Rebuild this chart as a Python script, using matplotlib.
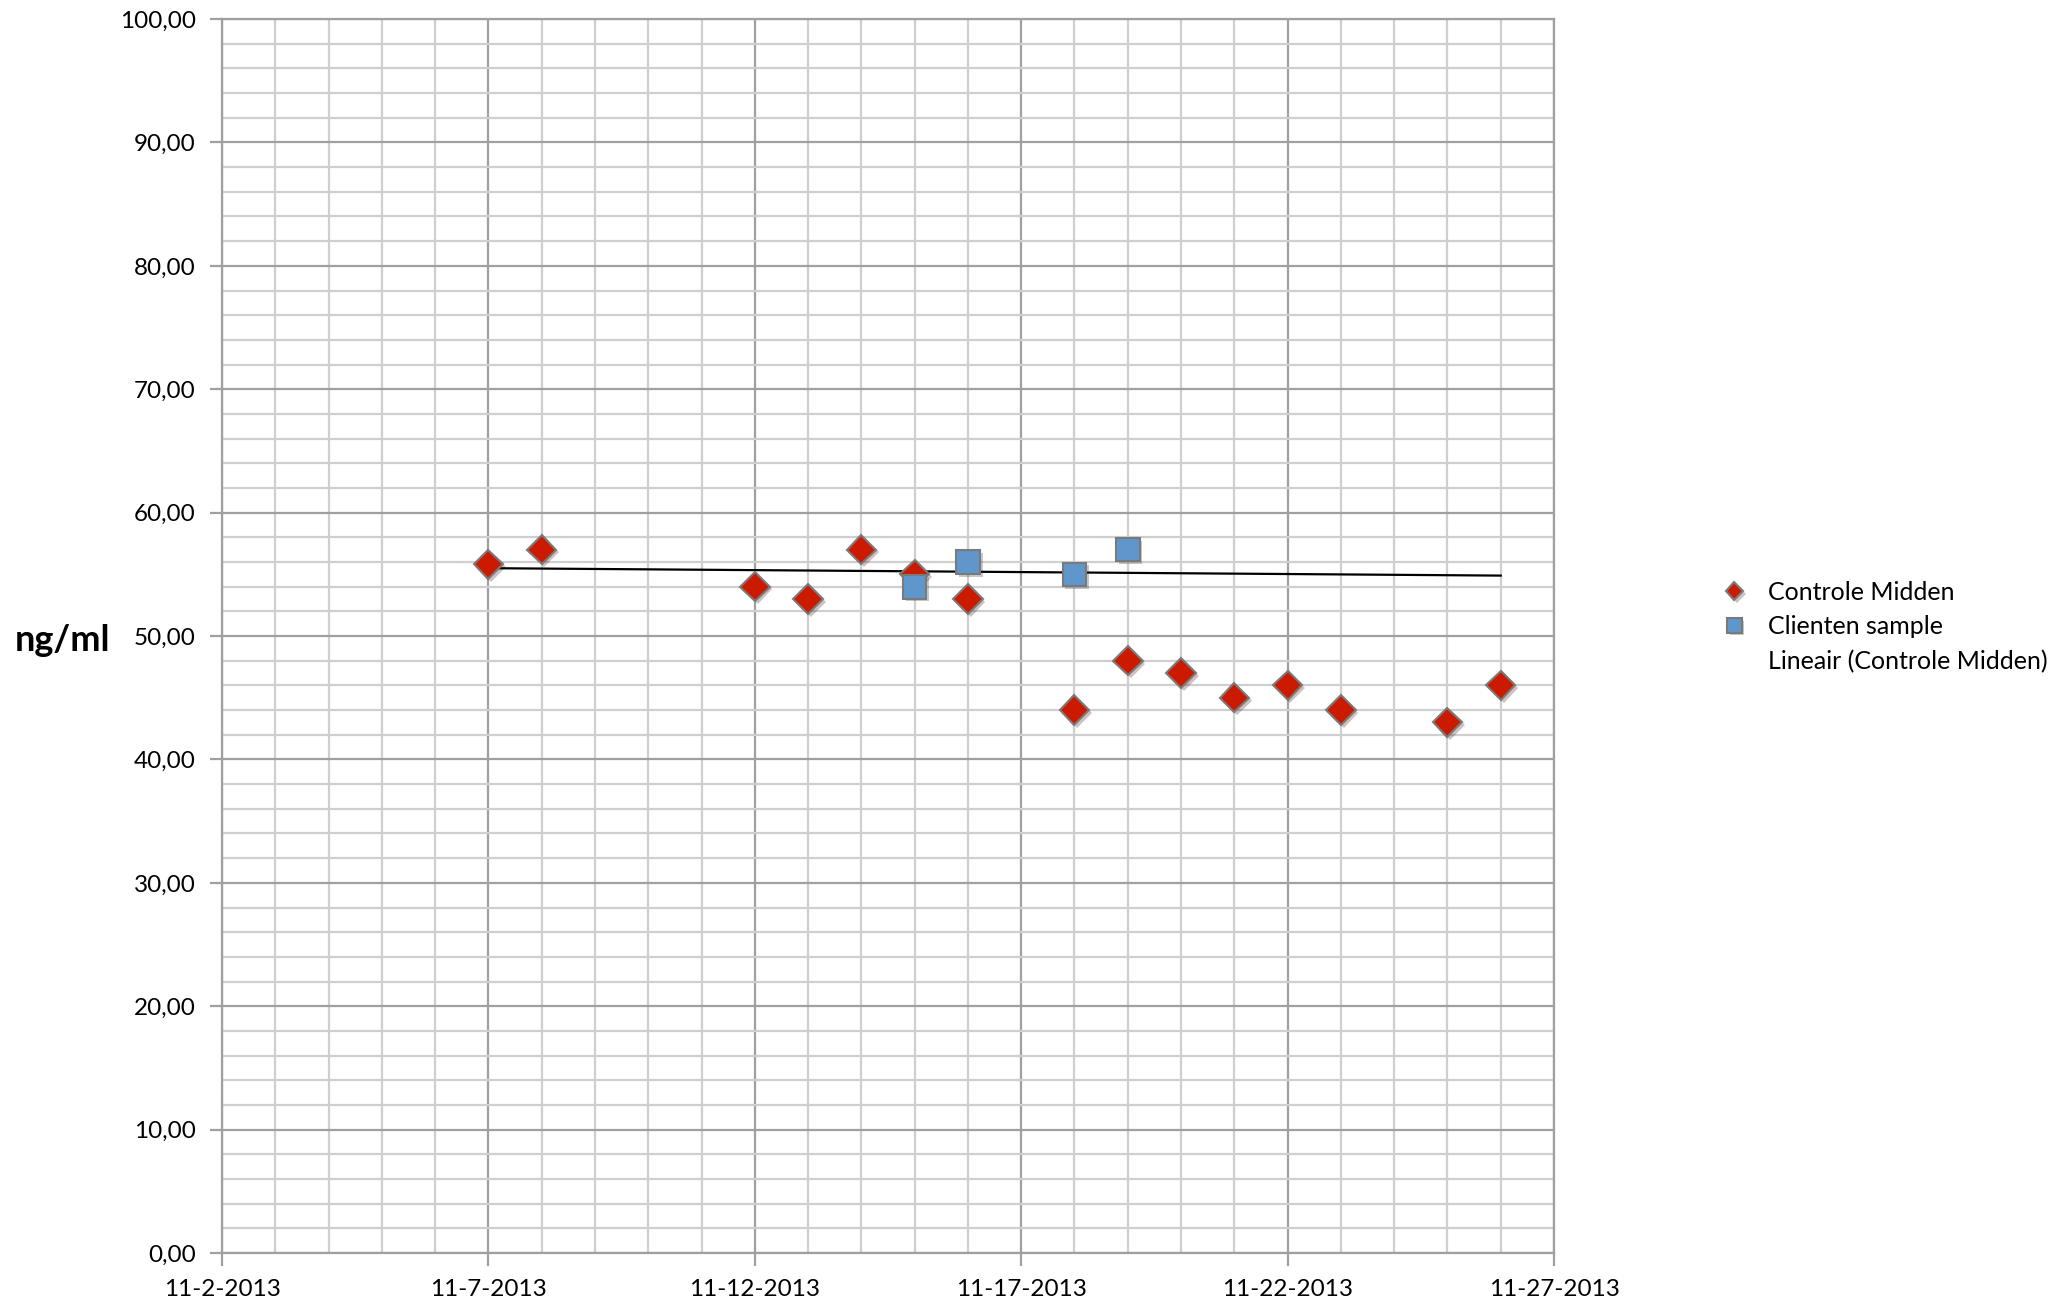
import matplotlib.pyplot as plt
import matplotlib.dates as mdates
import matplotlib.patheffects as pe
from matplotlib.lines import Line2D
from matplotlib.ticker import MultipleLocator, FuncFormatter
import pandas as pd

plt.rcParams['font.family'] = ['Lato', 'DejaVu Sans']

# Controle Midden (rode ruiten)
controle_dates = ['2013-11-07', '2013-11-08', '2013-11-12', '2013-11-13', '2013-11-14',
                  '2013-11-15', '2013-11-16', '2013-11-18', '2013-11-19', '2013-11-20',
                  '2013-11-21', '2013-11-22', '2013-11-23', '2013-11-25', '2013-11-26']
controle_values = [55.8, 57, 54, 53, 57, 55, 53, 44, 48, 47, 45, 46, 44, 43, 46]

# Clienten sample (blauwe vierkanten)
client_dates = ['2013-11-15', '2013-11-16', '2013-11-18', '2013-11-19']
client_values = [54, 56, 55, 57]

# Lineair (Controle Midden) zoals in de grafiek getekend
trend_dates = ['2013-11-07', '2013-11-26']
trend_values = [55.5, 54.9]

x_ticks = pd.date_range('2013-11-02', '2013-11-27', freq='5D')

fig = plt.figure(figsize=(20.69, 13.05), dpi=100)
ax = fig.add_axes([0.1073, 0.0398, 0.7511 - 0.1073, 0.9854 - 0.0398])

shadow = [pe.SimplePatchShadow(offset=(2, -2), alpha=0.25), pe.Normal()]

ax.plot(pd.to_datetime(trend_dates), trend_values, color='black', lw=1.6, zorder=3)
h1, = ax.plot(pd.to_datetime(controle_dates), controle_values, linestyle='none',
              marker='D', ms=15, color='#cc1a00', mec='#7a7a7a', mew=1.5,
              zorder=4, path_effects=shadow)
h2, = ax.plot(pd.to_datetime(client_dates), client_values, linestyle='none',
              marker='s', ms=17, color='#5f96cc', mec='#7a7a7a', mew=1.5,
              zorder=5, path_effects=shadow)

ax.set_xlim(x_ticks[0], x_ticks[-1])
ax.set_ylim(0, 100)
ax.set_xticks(x_ticks)
ax.xaxis.set_minor_locator(mdates.DayLocator())
ax.xaxis.set_major_formatter(FuncFormatter(
    lambda v, p: '{d.month}-{d.day}-{d.year}'.format(d=mdates.num2date(v))))
ax.yaxis.set_major_locator(MultipleLocator(10))
ax.yaxis.set_minor_locator(MultipleLocator(2))
ax.yaxis.set_major_formatter(FuncFormatter(lambda v, p: f'{v:.2f}'.replace('.', ',')))

ax.grid(which='major', color='#a0a0a0', lw=1.6)
ax.grid(which='minor', color='#cfcfcf', lw=1.6)
ax.set_axisbelow(True)
for s in ax.spines.values():
    s.set_color('#a0a0a0')
    s.set_linewidth(1.6)

ax.tick_params(which='major', length=9, width=1.6, color='#a0a0a0', labelsize=17.5)
ax.tick_params(axis='x', pad=10)
ax.tick_params(axis='y', pad=10)
ax.tick_params(which='minor', length=0)

fig.text(0.0302, 0.509, 'ng/ml', fontsize=26, fontweight='bold', ha='center', va='center')

blank = Line2D([], [], linestyle='none')
fig.legend([h1, h2, blank], ['Controle Midden', 'Clienten sample', 'Lineair (Controle Midden)'],
           loc='upper left', bbox_to_anchor=(0.822, 0.572), frameon=False, fontsize=18,
           handlelength=0.9, handletextpad=0.9, labelspacing=0.45, markerscale=0.6)

fig.savefig('out.png', dpi=100)
